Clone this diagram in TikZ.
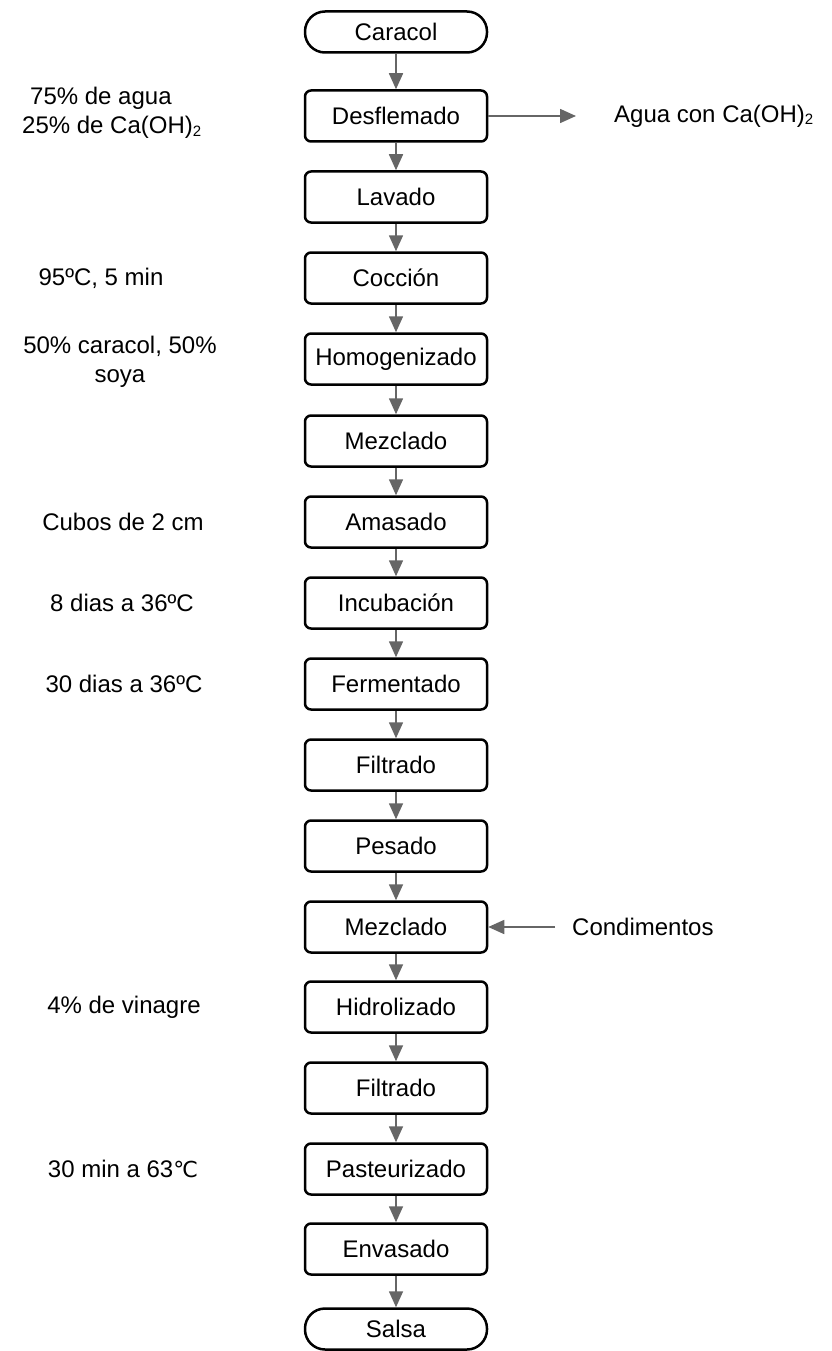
\documentclass[tikz,border=0pt]{standalone}
\usepackage{fontspec}
\setmainfont{Liberation Sans}
\newfontfamily\dejavu{DejaVu Sans}
\usetikzlibrary{arrows.meta}
\definecolor{arrgray}{HTML}{666666}
\newcommand{\sub}[1]{\raisebox{-0.1em}{\fontsize{15}{15}\selectfont #1}}
\begin{document}
\begin{tikzpicture}[x=1pt,y=-1pt,
  every node/.style={font=\fontsize{24}{29}\selectfont},
  procbox/.style={draw=black, line width=2.5pt, rounded corners=6pt, minimum width=182pt, minimum height=51pt, inner sep=0pt, fill=white},
  termbox/.style={draw=black, line width=2.5pt, rounded corners=20pt, minimum width=182pt, minimum height=41pt, inner sep=0pt, fill=white},
  lbl/.style={align=center, inner sep=0pt},
  arr/.style={draw=arrgray, line width=1.6pt, -{Triangle[length=16pt,width=14pt]}, arrgray}
]
\useasboundingbox[fill=white] (0,0) rectangle (831,1351);

\node[termbox] (caracol) at (396,32) {Caracol};
\node[procbox] (desf) at (396,116) {Desflemado};
\node[procbox] (lav) at (396,197) {Lavado};
\node[procbox] (coc) at (396,278) {Cocción};
\node[procbox] (homo) at (396,359) {Homogenizado};
\node[procbox] (mez1) at (396,441) {Mezclado};
\node[procbox] (ama) at (396,522) {Amasado};
\node[procbox] (inc) at (396,603) {Incubación};
\node[procbox] (fer) at (396,684) {Fermentado};
\node[procbox] (fil1) at (396,765) {Filtrado};
\node[procbox] (pes) at (396,846) {Pesado};
\node[procbox] (mez2) at (396,927) {Mezclado};
\node[procbox] (hid) at (396,1007) {Hidrolizado};
\node[procbox] (fil2) at (396,1088) {Filtrado};
\node[procbox] (pas) at (396,1169) {Pasteurizado};
\node[procbox] (env) at (396,1249) {Envasado};
\node[termbox] (salsa) at (396,1329) {Salsa};

\foreach \a/\b in {caracol/desf, desf/lav, lav/coc, coc/homo, homo/mez1, mez1/ama, ama/inc, inc/fer, fer/fil1, fil1/pes, pes/mez2, mez2/hid, hid/fil2, fil2/pas, pas/env, env/salsa}
  \draw[arr] (\a) -- (\b);

% side streams
\coordinate (aguaend) at (576,116);
\draw[arr] (desf.east) -- (aguaend);
\node[lbl, anchor=west] (agua) at (614,116) {Agua con Ca(OH)\sub{2}};

\coordinate (condstart) at (555,927);
\draw[arr] (condstart) -- (mez2.east);
\node[lbl, anchor=west] (cond) at (572,927) {Condimentos};

% left labels
\node[align=left, inner sep=0pt, anchor=west] (l1) at (22,113) {\hspace{8pt}75\% de agua\\25\% de Ca(OH)\sub{2}};
\node[lbl] (l2) at (101,278) {95ºC, 5 min};
\node[lbl] (l3) at (120,362) {50\% caracol, 50\%\\soya};
\node[lbl] (l4) at (123,522) {Cubos de 2 cm};
\node[lbl] (l5) at (122,603) {8 dias a 36ºC};
\node[lbl] (l6) at (124,684) {30 dias a 36ºC};
\node[lbl] (l7) at (124,1007) {4\% de vinagre};
\node[lbl] (l8) at (123,1169) {30 min a 63{\dejavu\fontsize{22}{24}\selectfont ℃}};
\end{tikzpicture}
\end{document}
